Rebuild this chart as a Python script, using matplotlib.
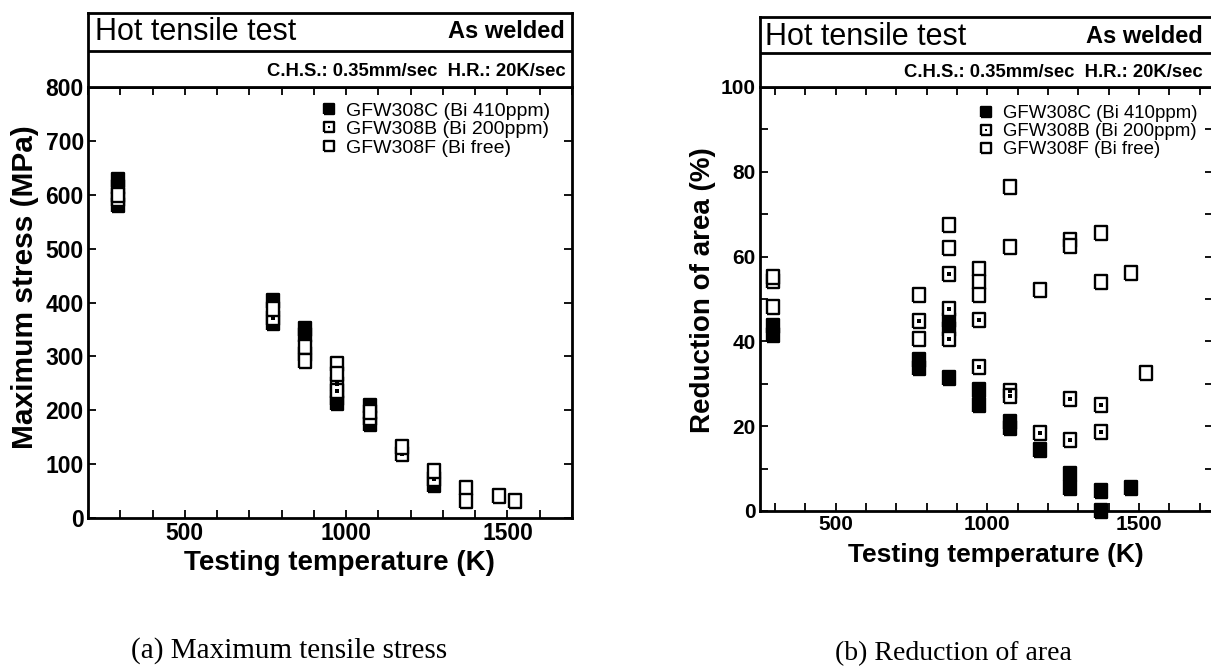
import matplotlib
matplotlib.use('Agg')
import matplotlib.pyplot as plt
from matplotlib.ticker import MultipleLocator, FixedLocator
from matplotlib.legend_handler import HandlerTuple

plt.rcParams['font.family'] = ['Liberation Sans', 'DejaVu Sans']

series_labels = ['GFW308C (Bi 410ppm)', 'GFW308B (Bi 200ppm)', 'GFW308F (Bi free)']

# maximum tensile stress (MPa) vs testing temperature (K)
stress_c_temp = [293, 293, 293, 773, 773, 873, 873, 973, 973, 1073, 1073, 1273]
stress_c = [627, 615, 581, 402, 362, 350, 340, 222, 214, 208, 175, 62]
stress_b_temp = [293, 773, 873, 973, 973, 1073, 1173, 1273]
stress_b = [592, 372, 305, 248, 236, 186, 118, 72]
stress_f_temp = [293, 773, 873, 873, 973, 973, 1073, 1173, 1273, 1373, 1373, 1473, 1523]
stress_f = [600, 388, 318, 292, 285, 268, 197, 132, 88, 55, 31, 40, 32]

# reduction of area (%) vs testing temperature (K)
ra_c_temp = [293, 293, 773, 773, 873, 873, 873, 973, 973, 1073, 1073, 1173, 1273, 1273, 1373, 1373, 1473]
ra_c = [43.7, 41.4, 35.5, 33.8, 45, 43, 31.4, 28.6, 24.9, 21, 19.6, 14.4, 8.8, 5.5, 4.7, 0, 5.4]
ra_b_temp = [293, 773, 873, 873, 873, 973, 973, 1073, 1073, 1173, 1273, 1273, 1373, 1373]
ra_b = [54.2, 44.8, 56, 47.6, 40.6, 45, 34, 28.4, 27.2, 18.4, 26.4, 16.7, 25, 18.6]
ra_f_temp = [293, 293, 773, 773, 873, 873, 973, 973, 973, 1073, 1073, 1173, 1273, 1273, 1373, 1373, 1473, 1523]
ra_f = [55.2, 48, 51, 40.6, 67.5, 62, 57, 54, 51, 76.4, 62.3, 52.1, 64, 62.4, 65.6, 54, 56.1, 32.5]

W, H = 1211, 666
fig = plt.figure(figsize=(W / 100, H / 100), dpi=100)

box = [(-0.46, -0.5), (0.46, -0.5), (0.46, 0.5), (-0.46, 0.5), (-0.46, -0.5)]


def frac(x0, y0, x1, y1):
    # pixel box -> figure fraction [left, bottom, width, height]
    return [x0 / W, 1 - y1 / H, (x1 - x0) / W, (y1 - y0) / H]


def draw_points(ax, tc, vc, tb, vb, tf, vf, ms):
    kw = dict(ls='none', marker=box, ms=ms, mec='k', mew=1.7, clip_on=False)
    hc, = ax.plot(tc, vc, mfc='k', zorder=3, **kw)
    hb, = ax.plot(tb, vb, mfc='white', zorder=4, **kw)
    hd, = ax.plot(tb, vb, ls='none', marker='s', ms=ms * 0.22, mfc='k', mec='k',
                  mew=0, zorder=4.5, clip_on=False)
    hf, = ax.plot(tf, vf, mfc='white', zorder=5, **kw)
    return [hc, (hb, hd), hf]


def header(rect, divider, x_left, x_right, y_title, y_sub):
    axh = fig.add_axes(rect)
    axh.set_xticks([])
    axh.set_yticks([])
    for s in axh.spines.values():
        s.set_linewidth(2)
    axh.axhline(divider, color='k', lw=2)
    axh.text(x_left, y_title, 'Hot tensile test', fontsize=22,
             ha='left', va='center', transform=axh.transAxes)
    axh.text(x_right, y_title, 'As welded', fontsize=17, fontweight='bold',
             ha='right', va='center', transform=axh.transAxes)
    axh.text(x_right, y_sub, 'C.H.S.: 0.35mm/sec  H.R.: 20K/sec', fontsize=13.3,
             fontweight='bold', ha='right', va='center', transform=axh.transAxes)


def style_axes(ax, tick_fs):
    for s in ax.spines.values():
        s.set_linewidth(2)
    ax.tick_params(which='both', direction='in', top=True, right=True,
                   length=5.5, width=1.3, labelsize=tick_fs, pad=3)
    for lab in ax.get_xticklabels() + ax.get_yticklabels():
        lab.set_fontweight('bold')


# (a) maximum tensile stress
ax1 = fig.add_axes(frac(88, 87, 572, 518))
header(frac(88, 13, 572, 87), 36 / 74, 0.015, 0.986, 0.745, 0.205)
h1 = draw_points(ax1, stress_c_temp, stress_c, stress_b_temp, stress_b,
                 stress_f_temp, stress_f, 10)
ax1.set_xlim(200, 1700)
ax1.set_ylim(0, 800)
ax1.xaxis.set_major_locator(FixedLocator([500, 1000, 1500]))
ax1.xaxis.set_minor_locator(MultipleLocator(100))
ax1.yaxis.set_major_locator(MultipleLocator(100))
style_axes(ax1, 16.5)
ax1.text(0.52, -0.104, 'Testing temperature (K)', fontsize=20, fontweight='bold',
         ha='center', va='center', transform=ax1.transAxes)
ax1.text(-0.13, 0.535, 'Maximum stress (MPa)', fontsize=21.5, fontweight='bold',
         rotation=90, ha='center', va='center', transform=ax1.transAxes)
ax1.legend(h1, series_labels, handler_map={tuple: HandlerTuple(ndivide=1)},
           loc='upper left', bbox_to_anchor=(0.479, 0.965), frameon=False,
           borderpad=0, borderaxespad=0, handlelength=0.9, handletextpad=0.45,
           labelspacing=0.05, markerscale=0.75, prop={'size': 14})

# (b) reduction of area
ax2 = fig.add_axes(frac(760, 87, 1213, 511))
header(frac(760, 17, 1213, 87), 34 / 70, 0.011, 0.978, 0.72, 0.214)
h2 = draw_points(ax2, ra_c_temp, ra_c, ra_b_temp, ra_b, ra_f_temp, ra_f, 10)
ax2.set_xlim(250, 1744)
ax2.set_ylim(0, 100)
ax2.xaxis.set_major_locator(FixedLocator([500, 1000, 1500]))
ax2.xaxis.set_minor_locator(MultipleLocator(100))
ax2.yaxis.set_major_locator(MultipleLocator(20))
ax2.yaxis.set_minor_locator(MultipleLocator(10))
style_axes(ax2, 15)
ax2.text(0.521, -0.104, 'Testing temperature (K)', fontsize=19, fontweight='bold',
         ha='center', va='center', transform=ax2.transAxes)
ax2.text(-0.126, 0.521, 'Reduction of area (%)', fontsize=20, fontweight='bold',
         rotation=90, ha='center', va='center', transform=ax2.transAxes)
ax2.legend(h2, series_labels, handler_map={tuple: HandlerTuple(ndivide=1)},
           loc='upper left', bbox_to_anchor=(0.481, 0.957), frameon=False,
           borderpad=0, borderaxespad=0, handlelength=0.9, handletextpad=0.45,
           labelspacing=0.05, markerscale=0.75, prop={'size': 13.4})

fig.text(289 / W, 1 - 651 / H, '(a) Maximum tensile stress', family='Liberation Serif',
         fontsize=21, ha='center', va='center')
fig.text(953 / W, 1 - 654 / H, '(b) Reduction of area', family='Liberation Serif',
         fontsize=20, ha='center', va='center')

fig.savefig('out.png', dpi=100)
